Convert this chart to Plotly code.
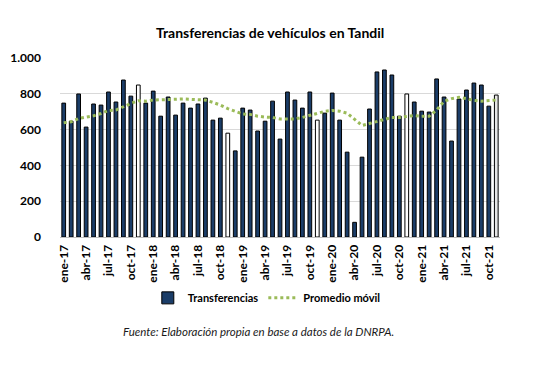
import plotly.graph_objects as go

meses = ["ene", "feb", "mar", "abr", "may", "jun", "jul", "ago", "sep", "oct", "nov", "dic"]
categorias = [f"{m}-{y}" for y in range(17, 22) for m in meses][:59]

transferencias = [
    748, 647, 799, 614, 743, 737, 810, 754, 877, 787, 849, 748,
    815, 675, 782, 681, 748, 720, 743, 776, 653, 664, 580, 481,
    720, 709, 592, 647, 759, 547, 810, 765, 720, 810, 653, 692,
    804, 653, 474, 82, 446, 715, 922, 933, 905, 675, 799, 754,
    703, 698, 883, 782, 536, 771, 821, 860, 849, 731, 793,
]

promedio_movil = [
    638, 644, 662, 668, 677, 690, 707, 709, 728, 746, 761, 759,
    765, 767, 767, 771, 771, 769, 767, 765, 752, 737, 717, 700,
    687, 685, 675, 670, 668, 659, 657, 659, 668, 679, 690, 702,
    707, 703, 692, 659, 623, 634, 644, 657, 668, 668, 675, 679,
    674, 675, 709, 758, 773, 780, 773, 763, 759, 763, 765,
]

tick_labels = categorias[::3]

navy = "#1b3d68"
colors = []
for i, c in enumerate(categorias):
    if i == len(categorias) - 1:
        colors.append("#e6e6e6")
    elif c.startswith("nov"):
        colors.append("#ffffff")
    else:
        colors.append(navy)

font_fam = "Lato, 'Open Sans', Arial, sans-serif"

fig = go.Figure()
fig.add_trace(go.Bar(
    x=categorias, y=transferencias, name="<b>Transferencias</b>",
    marker=dict(color=colors, line=dict(color="#000000", width=1)),
))
fig.add_trace(go.Scatter(
    x=categorias, y=promedio_movil, name="<b>Promedio móvil</b>", mode="lines",
    line=dict(color="#9bbb59", width=3, dash="dot"),
))

fig.update_layout(
    width=536, height=371,
    paper_bgcolor="white", plot_bgcolor="white",
    margin=dict(l=60, r=36, t=58, b=134),
    bargap=0.5,
    font=dict(family=font_fam, color="#000000"),
    title=dict(text="<b>Transferencias de vehículos en Tandil</b>",
               x=0.504, xanchor="center", y=0.911, yanchor="middle",
               font=dict(size=14, family=font_fam, color="#000000")),
    showlegend=True,
    legend=dict(orientation="h", x=0.47, xanchor="center", y=-0.34, yanchor="middle",
                font=dict(size=11, family=font_fam, color="#000000"),
                traceorder="normal", itemwidth=30),
    xaxis=dict(type="category", tickmode="array", tickvals=tick_labels,
               ticktext=[f"<b>{t}</b>" for t in tick_labels], tickangle=-90,
               tickfont=dict(size=12), showline=True, linecolor="#bfbfbf",
               showgrid=False, ticks="", ticklabelstandoff=2),
    yaxis=dict(range=[0, 1000], tickvals=[0, 200, 400, 600, 800, 1000],
               ticktext=["<b>0</b>", "<b>200</b>", "<b>400</b>", "<b>600</b>", "<b>800</b>", "<b>1.000</b>"],
               tickfont=dict(size=12), showgrid=True, gridcolor="#d9d9d9",
               zeroline=False, ticks="", ticklabelstandoff=18),
)

fig.add_annotation(
    text="<i>Fuente: Elaboración propia en base a datos de la DNRPA.</i>",
    xref="paper", yref="paper", x=0.45, y=-0.53, xanchor="center", yanchor="middle",
    showarrow=False, font=dict(size=11.5, family=font_fam, color="#1a1a1a"),
)
fig.update_yaxes(automargin=False)
fig.update_xaxes(automargin=False)

fig.write_html("out.html", config={"displayModeBar": False})

with open("out.html", "r", encoding="utf-8") as f:
    html = f.read()
html = html.replace("<body>", "<body style=\"margin:0;padding:0;overflow:hidden\">", 1)
with open("out.html", "w", encoding="utf-8") as f:
    f.write(html)
